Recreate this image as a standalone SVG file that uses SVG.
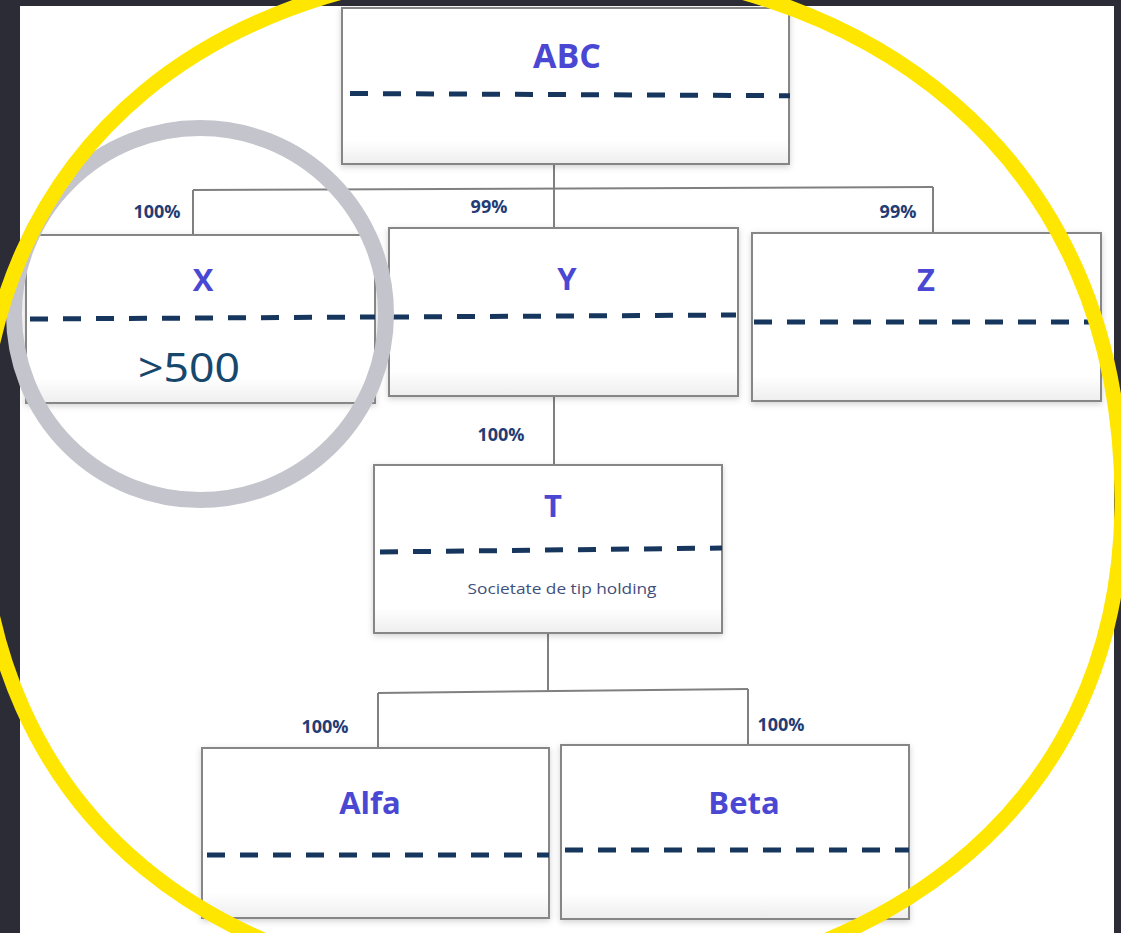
<svg xmlns="http://www.w3.org/2000/svg" width="1121" height="933" viewBox="0 0 1121 933">
  <defs>
    <filter id="sh" x="-5%" y="-5%" width="110%" height="115%">
      <feDropShadow dx="0" dy="2" stdDeviation="3" flood-color="#000" flood-opacity="0.18"/>
    </filter>
    <linearGradient id="boxfill" x1="0" y1="0" x2="0" y2="1">
      <stop offset="0" stop-color="#ffffff"/>
      <stop offset="0.85" stop-color="#ffffff"/>
      <stop offset="1" stop-color="#eeeeee"/>
    </linearGradient>
  </defs>
  <style>
    .box { fill: url(#boxfill); stroke: #868686; stroke-width: 2; filter: url(#sh); }
    .dash { fill: none; stroke: #17365d; stroke-width: 5; stroke-dasharray: 18 15; }
    .name { font-family: "Open Sans", "Noto Sans", sans-serif; font-weight: 700; fill: #4a48d2; text-anchor: middle; }
    .pct { font-family: "Open Sans", "Noto Sans", sans-serif; font-weight: 700; font-size: 18px; fill: #243c74; text-anchor: middle; }
    .conn { fill: none; stroke: #808080; stroke-width: 2; }
  </style>
  <rect x="0" y="0" width="1121" height="933" fill="#2c2c36"/>
  <rect x="20" y="6" width="1094" height="927" fill="#ffffff"/>

  <g id="connectors">
    <path class="conn" d="M554 164 V189"/>
    <path class="conn" d="M193 190 L933 187"/>
    <path class="conn" d="M193 190 V235"/>
    <path class="conn" d="M554 189 V228"/>
    <path class="conn" d="M933 187 V233"/>
    <path class="conn" d="M554 397 V465"/>
    <path class="conn" d="M548 633 V691"/>
    <path class="conn" d="M378 693 L748 689"/>
    <path class="conn" d="M378 693 V748"/>
    <path class="conn" d="M748 689 V745"/>
    <text class="pct" x="157" y="218">100%</text>
    <text class="pct" x="489" y="213">99%</text>
    <text class="pct" x="898" y="218">99%</text>
    <text class="pct" x="501" y="441">100%</text>
    <text class="pct" x="325" y="733">100%</text>
    <text class="pct" x="781" y="731">100%</text>
  </g>

  <g id="node-abc">
    <rect class="box" x="342" y="8" width="447" height="156"/>
    <path class="dash" d="M350 93.5 L790 95.7"/>
    <text class="name" x="567" y="68" font-size="34">ABC</text>
  </g>
  <g id="node-x">
    <rect class="box" x="26" y="235" width="349" height="168"/>
    <path class="dash" d="M30 319 L375 317"/>
    <text class="name" x="203" y="291" font-size="31">X</text>
    <text x="189" y="382" font-family="'Noto Sans', 'Open Sans', sans-serif" font-size="40" fill="#16486e" text-anchor="middle" textLength="102" lengthAdjust="spacingAndGlyphs">&gt;500</text>
  </g>
  <g id="node-y">
    <rect class="box" x="389" y="228" width="349" height="168"/>
    <path class="dash" d="M391 317 L736 315"/>
    <text class="name" x="567" y="290" font-size="31">Y</text>
  </g>
  <g id="node-z">
    <rect class="box" x="752" y="233" width="349" height="168"/>
    <path class="dash" d="M754 322 L1100 322"/>
    <text class="name" x="926" y="291" font-size="31">Z</text>
  </g>
  <g id="node-t">
    <rect class="box" x="374" y="465" width="348" height="168"/>
    <path class="dash" d="M380 552 L722 548"/>
    <text class="name" x="553" y="517" font-size="31">T</text>
    <text x="562" y="594" font-family="'Open Sans', 'Noto Sans', sans-serif" font-size="14" fill="#3e4f7c" text-anchor="middle" textLength="189" lengthAdjust="spacingAndGlyphs">Societate de tip holding</text>
  </g>
  <g id="node-alfa">
    <rect class="box" x="202" y="748" width="347" height="170"/>
    <path class="dash" d="M207 855 L549 855"/>
    <text class="name" x="370" y="814" font-size="31">Alfa</text>
  </g>
  <g id="node-beta">
    <rect class="box" x="561" y="745" width="348" height="174"/>
    <path class="dash" d="M565 850 L909 850"/>
    <text class="name" x="744" y="814" font-size="31">Beta</text>
  </g>

  <circle cx="200" cy="314" r="186" fill="none" stroke="#c4c5cc" stroke-width="16"/>
  <path fill="none" stroke="#ffe600" stroke-width="15" d="M545 -34 C863.7 -34 1122 152.9 1122 500 C1122 820.5 862.8 993 543 993 C231 993 -22 828.8 -22 480 C-22 130.5 231.8 -34 545 -34 Z"/>
</svg>
